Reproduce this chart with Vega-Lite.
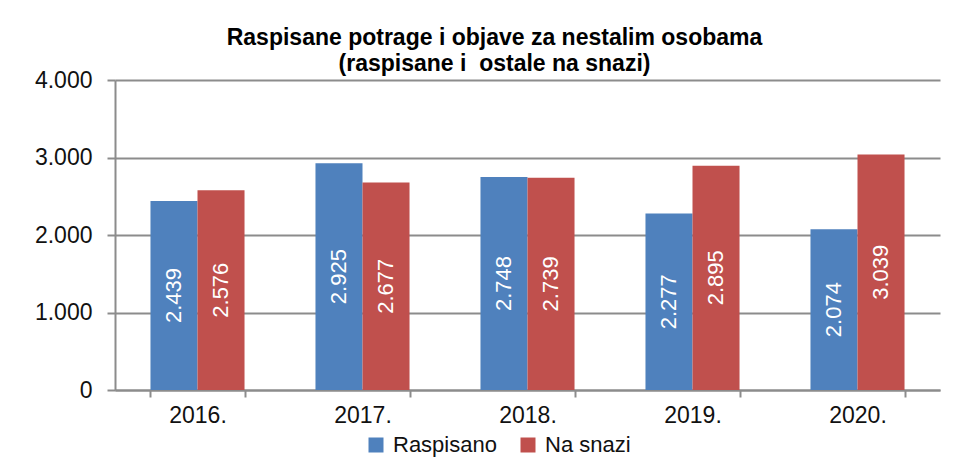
{
  "$schema": "https://vega.github.io/schema/vega-lite/v6.json",
  "width": 825,
  "height": 310,
  "autosize": "none",
  "padding": {"left": 115, "top": 80, "right": 23, "bottom": 86},
  "background": "white",
  "config": {
    "locale": {"number": {"decimal": ",", "thousands": ".", "grouping": [3], "currency": ["", ""]}},
    "view": {"stroke": null},
    "font": "Liberation Sans"
  },
  "title": {
    "text": ["Raspisane potrage i objave za nestalim osobama", "(raspisane i\u00a0 ostale na snazi)"],
    "font": "Liberation Sans",
    "fontSize": 23,
    "fontWeight": "bold",
    "lineHeight": 26,
    "anchor": "middle",
    "dx": -33,
    "offset": -7,
    "color": "black"
  },
  "data": {
    "values": [
      {"year": "2016.", "series": "Raspisano", "value": 2439},
      {"year": "2016.", "series": "Na snazi", "value": 2576},
      {"year": "2017.", "series": "Raspisano", "value": 2925},
      {"year": "2017.", "series": "Na snazi", "value": 2677},
      {"year": "2018.", "series": "Raspisano", "value": 2748},
      {"year": "2018.", "series": "Na snazi", "value": 2739},
      {"year": "2019.", "series": "Raspisano", "value": 2277},
      {"year": "2019.", "series": "Na snazi", "value": 2895},
      {"year": "2020.", "series": "Raspisano", "value": 2074},
      {"year": "2020.", "series": "Na snazi", "value": 3039}
    ]
  },
  "encoding": {
    "x": {
      "field": "year",
      "type": "nominal",
      "scale": {"paddingInner": 0.43, "paddingOuter": 0.215},
      "axis": {
        "title": null,
        "labelAngle": 0,
        "labelFontSize": 23,
        "labelColor": "#111",
        "labelPadding": 7,
        "tickBand": "extent",
        "tickSize": 7,
        "tickColor": "#8c8c8c",
        "tickWidth": 2,
        "domainColor": "#8c8c8c",
        "domainWidth": 2,
        "grid": false
      }
    },
    "xOffset": {"field": "series", "type": "nominal", "sort": ["Raspisano", "Na snazi"], "scale": {"paddingInner": 0, "paddingOuter": 0}}
  },
  "layer": [
    {
      "mark": {"type": "bar"},
      "encoding": {
        "y": {
          "field": "value",
          "type": "quantitative",
          "scale": {"domain": [0, 4000]},
          "axis": {
            "title": null,
            "values": [0, 1000, 2000, 3000, 4000],
            "format": ",d",
            "labelFontSize": 23,
            "labelColor": "#111",
            "labelPadding": 15,
            "tickSize": 8,
            "tickColor": "#8c8c8c",
            "tickWidth": 2,
            "domainColor": "#8c8c8c",
            "domainWidth": 2,
            "gridColor": "#8c8c8c",
            "gridWidth": 2
          }
        },
        "color": {
          "field": "series",
          "type": "nominal",
          "sort": ["Raspisano", "Na snazi"],
          "scale": {"domain": ["Raspisano", "Na snazi"], "range": ["#4F81BD", "#C0504D"]},
          "legend": {
            "title": null,
            "orient": "none",
            "direction": "horizontal",
            "legendX": 250,
            "legendY": 354,
            "symbolType": "square",
            "symbolSize": 225,
            "symbolStrokeWidth": 0,
            "symbolOpacity": 1,
            "labelFontSize": 22,
            "labelColor": "#111",
            "labelOffset": 6,
            "columnPadding": 20
          }
        }
      }
    },
    {
      "mark": {"type": "text", "angle": 270, "color": "white", "fontSize": 22, "baseline": "middle", "align": "center"},
      "encoding": {
        "y": {"field": "value", "type": "quantitative", "scale": {"domain": [0, 8000]}, "axis": null},
        "text": {"field": "value", "type": "quantitative", "format": ",d"}
      }
    }
  ],
  "resolve": {"scale": {"y": "independent"}}
}
